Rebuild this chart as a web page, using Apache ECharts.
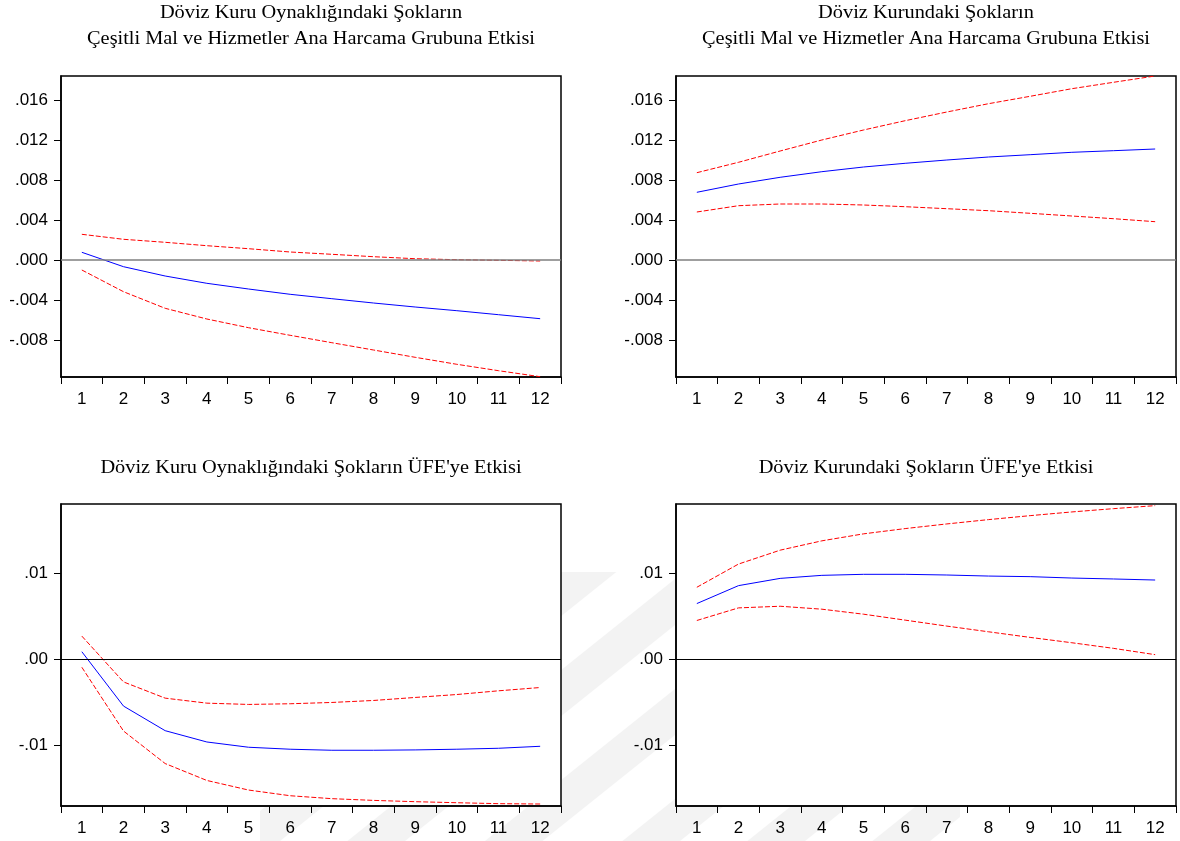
<!DOCTYPE html>
<html>
<head>
<meta charset="utf-8">
<script src="https://cdn.jsdelivr.net/npm/echarts@6/dist/echarts.min.js"></script>
<style>
html,body{margin:0;padding:0;background:#fff;}
#chart{width:1180px;height:841px;}
</style>
</head>
<body>
<div id="chart"></div>
<script>
// ---------- data ----------
const categories = ['1','2','3','4','5','6','7','8','9','10','11','12'];

const titles1 = ['Döviz Kuru Oynaklığındaki Şokların', 'Çeşitli Mal ve Hizmetler Ana Harcama Grubuna Etkisi'];
const titles2 = ['Döviz Kurundaki Şokların', 'Çeşitli Mal ve Hizmetler Ana Harcama Grubuna Etkisi'];
const titles3 = ["Döviz Kuru Oynaklığındaki Şokların ÜFE'ye Etkisi"];
const titles4 = ["Döviz Kurundaki Şokların ÜFE'ye Etkisi"];

// Panel 1: volatility shock -> misc goods & services
const p1Resp  = [0.00077,-0.00067,-0.0016,-0.00233,-0.0029,-0.00343,-0.00387,-0.0043,-0.0047,-0.00507,-0.00547,-0.00587];
const p1Upper = [0.00257,0.00207,0.00177,0.00143,0.00113,0.0008,0.00057,0.00033,0.00013,0.00003,-0.00003,-0.0001];
const p1Lower = [-0.001,-0.00317,-0.00483,-0.0059,-0.00677,-0.00753,-0.00827,-0.009,-0.00973,-0.01043,-0.01107,-0.01167];

// Panel 2: exchange rate shock -> misc goods & services
const p2Resp  = [0.00677,0.0076,0.00827,0.00883,0.0093,0.00967,0.01,0.0103,0.01053,0.01077,0.01093,0.0111];
const p2Upper = [0.00873,0.00977,0.0109,0.012,0.013,0.01393,0.0148,0.01563,0.01637,0.01713,0.01777,0.0184];
const p2Lower = [0.0048,0.00543,0.0056,0.0056,0.0055,0.00533,0.00513,0.00493,0.00467,0.0044,0.00413,0.00383];

// Panel 3: volatility shock -> PPI
const p3Resp  = [0.00088,-0.00542,-0.00827,-0.00958,-0.01019,-0.01042,-0.01054,-0.01054,-0.0105,-0.01042,-0.01031,-0.01008];
const p3Upper = [0.00269,-0.00262,-0.0045,-0.00508,-0.00523,-0.00515,-0.005,-0.00477,-0.00442,-0.00408,-0.00365,-0.00327];
const p3Lower = [-0.00092,-0.00831,-0.01208,-0.01404,-0.01515,-0.01581,-0.01615,-0.01635,-0.0165,-0.01662,-0.01673,-0.01677];

// Panel 4: exchange rate shock -> PPI
const p4Resp  = [0.00646,0.00854,0.00938,0.00973,0.00985,0.00985,0.00977,0.00965,0.00958,0.00942,0.00931,0.00919];
const p4Upper = [0.00835,0.01104,0.01265,0.01373,0.01454,0.01515,0.01569,0.01619,0.01665,0.01708,0.01746,0.01781];
const p4Lower = [0.0045,0.00596,0.00615,0.00581,0.00523,0.00454,0.00385,0.00319,0.00254,0.00192,0.00127,0.00054];

const topTicks = [-0.008,-0.004,0,0.004,0.008,0.012,0.016];
const bottomTicks = [-0.01,0,0.01];
const topRange = [-0.0117, 0.0184];
const bottomRange = [-0.017, 0.018];

// ---------- chart ----------
const grids = [
  {left:61, top:76, width:500, height:301},
  {left:676, top:76, width:500, height:301},
  {left:61, top:504, width:500, height:302},
  {left:676, top:504, width:500, height:302}
];

function fmt(dec){
  return function(v){
    if (Math.abs(v) < 1e-12) return '.' + '0'.repeat(dec);
    const s = Math.abs(v).toFixed(dec).replace(/^0/, '');
    return (v < 0 ? '-' : '') + s;
  };
}

const panels = [
  {resp:p1Resp, up:p1Upper, lo:p1Lower, ticks:topTicks, range:topRange, dec:3, zero:'#7f7f7f', zw:1.5},
  {resp:p2Resp, up:p2Upper, lo:p2Lower, ticks:topTicks, range:topRange, dec:3, zero:'#7f7f7f', zw:1.5},
  {resp:p3Resp, up:p3Upper, lo:p3Lower, ticks:bottomTicks, range:bottomRange, dec:2, zero:'#000', zw:1},
  {resp:p4Resp, up:p4Upper, lo:p4Lower, ticks:bottomTicks, range:bottomRange, dec:2, zero:'#000', zw:1}
];

const labelFont = {fontFamily:'"Liberation Sans", Arial, sans-serif', fontSize:17, color:'#000'};

const xAxis = panels.map((p,i)=>({
  type:'category', gridIndex:i, data:categories, boundaryGap:true,
  axisLine:{show:true, onZero:false, lineStyle:{color:'#000', width:1.5}},
  axisTick:{show:true, inside:false, length:7, alignWithLabel:false, lineStyle:{color:'#000'}},
  axisLabel:Object.assign({margin:14, interval:0}, labelFont),
  splitLine:{show:false}
}));

const yAxis = panels.map((p,i)=>({
  type:'value', gridIndex:i, min:p.range[0], max:p.range[1],
  axisLine:{show:true, onZero:false, lineStyle:{color:'#000', width:1.5}},
  axisTick:{show:true, inside:false, length:7, customValues:p.ticks, lineStyle:{color:'#000'}},
  axisLabel:Object.assign({margin:13, customValues:p.ticks, formatter:fmt(p.dec)}, labelFont),
  splitLine:{show:false}
}));

const series = [];
panels.forEach((p,i)=>{
  series.push({
    type:'line', xAxisIndex:i, yAxisIndex:i, data:p.resp, symbol:'none',
    lineStyle:{color:'#0000ff', width:1}, z:3,
    markLine:{silent:true, symbol:'none', label:{show:false}, animation:false,
      lineStyle:{color:p.zero, width:p.zw, type:'solid'}, data:[{yAxis:0}]}
  });
  series.push({
    type:'line', xAxisIndex:i, yAxisIndex:i, data:p.up, symbol:'none',
    lineStyle:{color:'#ff0000', width:1, type:[5,2]}, z:4
  });
  series.push({
    type:'line', xAxisIndex:i, yAxisIndex:i, data:p.lo, symbol:'none',
    lineStyle:{color:'#ff0000', width:1, type:[5,2]}, z:4
  });
});

const graphic = [];

// faint diagonal watermark bands in the lower margins (decoration)
function clipPoly(pts, x0, y0, x1, y1){
  const edges = [
    [p=>p[0]>=x0, (a,b)=>{const t=(x0-a[0])/(b[0]-a[0]); return [x0, a[1]+t*(b[1]-a[1])];}],
    [p=>p[0]<=x1, (a,b)=>{const t=(x1-a[0])/(b[0]-a[0]); return [x1, a[1]+t*(b[1]-a[1])];}],
    [p=>p[1]>=y0, (a,b)=>{const t=(y0-a[1])/(b[1]-a[1]); return [a[0]+t*(b[0]-a[0]), y0];}],
    [p=>p[1]<=y1, (a,b)=>{const t=(y1-a[1])/(b[1]-a[1]); return [a[0]+t*(b[0]-a[0]), y1];}]
  ];
  let out = pts;
  edges.forEach(([inside, inter])=>{
    const inp = out; out = [];
    for (let k=0;k<inp.length;k++){
      const cur = inp[k], prev = inp[(k+inp.length-1)%inp.length];
      if (inside(cur)){ if(!inside(prev)) out.push(inter(prev,cur)); out.push(cur); }
      else if (inside(prev)) out.push(inter(prev,cur));
    }
  });
  return out;
}
const slope = 0.8, thick = 46;
[590, 690, 800, 910, 1010, 1110].forEach(c=>{
  const xa = 200, xb = 1000;
  const ya = c + slope*(565-xa), yb = c - slope*(xb-565);
  const pts = [[xa, ya-thick/2],[xb, yb-thick/2],[xb, yb+thick/2],[xa, ya+thick/2]];
  const clipped = clipPoly(pts, 260, 572, 960, 841);
  if (clipped.length>2) graphic.push({type:'polygon', z:-5, silent:true,
    shape:{points:clipped}, style:{fill:'#f3f3f3'}});
});
// white plot backgrounds over the watermark
grids.forEach(g=>{
  graphic.push({type:'rect', z:-4, silent:true, shape:{x:g.left, y:g.top, width:g.width, height:g.height}, style:{fill:'#fff'}});
});

const titleFont = '18px "Liberation Serif", "Times New Roman", serif';
function addTitle(lines, cx, y0, lh){
  lines.forEach((t,k)=>{
    graphic.push({type:'text', x:cx, y:y0 + k*lh, z:10, scaleX:1.13,
      style:{text:t, font:titleFont, fill:'#000', textAlign:'center', textVerticalAlign:'middle'}});
  });
}
addTitle(titles1, 311, 13.5, 25.5);
addTitle(titles2, 926, 13.5, 25.5);
addTitle(titles3, 311, 468.5, 25.5);
addTitle(titles4, 926, 468.5, 25.5);

const chart = echarts.init(document.getElementById('chart'), null, {renderer:'canvas'});
chart.setOption({
  animation:false,
  backgroundColor:'#fff',
  grid:grids.map(g=>Object.assign({show:true, borderColor:'#000', borderWidth:1.5, backgroundColor:'transparent', containLabel:false}, g)),
  xAxis, yAxis, series, graphic
});
</script>
</body>
</html>
